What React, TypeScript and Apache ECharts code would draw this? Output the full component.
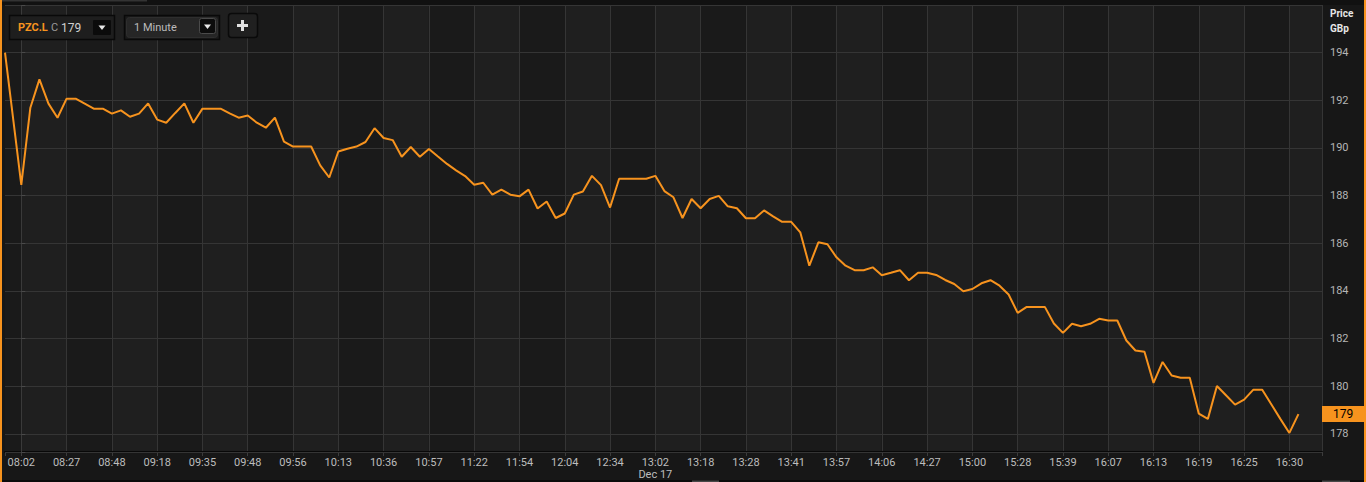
import React, { useEffect, useRef } from "react";
import * as echarts from "echarts";

// Slot positions: first tick (the open) sits just before the 08:02 slot
const slotOffsetFirst = -1.8;
const prices: number[] = [
  194.0, 188.45, 191.69, 192.88, 191.86, 191.27, 192.07, 192.07, 191.86, 191.65,
  191.65, 191.44, 191.58, 191.31, 191.44, 191.87, 191.19, 191.06, 191.47, 191.87,
  191.06, 191.65, 191.65, 191.65, 191.45, 191.27, 191.36, 191.06, 190.85, 191.27,
  190.27, 190.06, 190.06, 190.06, 189.27, 188.76, 189.85, 189.97, 190.06, 190.25,
  190.83, 190.42, 190.33, 189.63, 190.04, 189.63, 189.96, 189.64, 189.33, 189.06,
  188.82, 188.46, 188.54, 188.04, 188.25, 188.04, 187.97, 188.25, 187.46, 187.75,
  187.06, 187.25, 188.04, 188.17, 188.83, 188.44, 187.5, 188.71, 188.71, 188.71,
  188.71, 188.83, 188.19, 187.93, 187.06, 187.86, 187.47, 187.86, 187.99, 187.55,
  187.47, 187.05, 187.05, 187.38, 187.13, 186.9, 186.9, 186.46, 185.06, 186.04,
  185.96, 185.41, 185.06, 184.87, 184.87, 184.99, 184.66, 184.76, 184.87, 184.45,
  184.76, 184.76, 184.67, 184.46, 184.29, 183.99, 184.08, 184.32, 184.45, 184.22,
  183.85, 183.08, 183.33, 183.33, 183.33, 182.63, 182.24, 182.62, 182.52, 182.62,
  182.83, 182.76, 182.76, 181.92, 181.5, 181.45, 180.14, 181.02, 180.45, 180.36,
  180.36, 178.85, 178.63, 180.01, 179.62, 179.23, 179.44, 179.85, 179.85, 179.24,
  178.63, 178.04, 178.83,
];
const timeLabels: string[] = [
  "08:02", "08:27", "08:48", "09:18", "09:35", "09:48", "09:56", "10:13", "10:36", "10:57",
  "11:22", "11:54", "12:04", "12:34", "13:02", "13:18", "13:28", "13:41", "13:57", "14:06",
  "14:27", "15:00", "15:28", "15:39", "16:07", "16:13", "16:19", "16:25", "16:30",
];
const dateLabel = "Dec 17";
const dateLabelAt = "13:02";
const labelEvery = 5;
const ticker = "PZC.L";
const closeLabel = "C";
const period = "1 Minute";
const yUnit = ["Price", "GBp"];

const slots: number[] = prices.map((_, i) => (i === 0 ? slotOffsetFirst : i - 1));
const lastPrice = prices[prices.length - 1];

const FONT = 'Roboto, "Liberation Sans", Arial, sans-serif';
const ORANGE = "#f7931e";

export default function App() {
  const ref = useRef<HTMLDivElement>(null);
  useEffect(() => {
    if (!ref.current) return;
    const chart = echarts.init(ref.current, null, { renderer: "svg" });
    const tri = (cx: number, cy: number) => ({
      type: "polygon",
      z: 102,
      shape: { points: [[cx - 3.5, cy - 2], [cx + 3.5, cy - 2], [cx, cy + 2.5]] },
      style: { fill: "#e8e8e8" },
    });
    const option: any = {
      animation: false,
      backgroundColor: "#171717",
      textStyle: { fontFamily: FONT },
      grid: { left: 5, right: 44, top: 5, bottom: 30, containLabel: false },
      xAxis: {
        type: "value",
        z: 0,
        min: slotOffsetFirst,
        max: 143.6,
        splitNumber: 29,
        axisLine: { show: true, lineStyle: { color: "#080808", width: 2 } },
        axisTick: { show: true, length: 4, lineStyle: { color: "#3c3c3c" } },
        splitLine: { show: true, showMinLine: false, lineStyle: { color: "#353535", width: 1 } },
        splitArea: { show: true, areaStyle: { color: ["#1a1a1a", "#1f1f1f"] } },
        axisLabel: {
          margin: 4,
          color: "#bdbdbd",
          fontSize: 11,
          fontFamily: FONT,
          lineHeight: 12,
          formatter: (v: number) => {
            const k = v / labelEvery;
            if (v < 0 || Math.abs(k - Math.round(k)) > 1e-6) return "";
            const t = timeLabels[Math.round(k)];
            if (!t) return "";
            return t === dateLabelAt ? `${t}\n${dateLabel}` : t;
          },
        },
      },
      yAxis: {
        type: "value",
        z: 1,
        position: "right",
        min: 177.24,
        max: 196,
        splitNumber: 9,
        axisLine: { show: true, lineStyle: { color: "#3a3a3a", width: 1 } },
        axisTick: { show: true, length: 4, lineStyle: { color: "#4a4a4a" } },
        splitLine: { show: true, lineStyle: { color: "#353535", width: 1 } },
        axisLabel: {
          margin: 8,
          color: "#b5b5b5",
          fontSize: 11,
          fontFamily: FONT,
          formatter: (v: number) =>
            Number.isInteger(Math.round(v * 1000) / 1000) && v <= 194 && v >= 178 ? String(Math.round(v)) : "",
        },
      },
      series: [
        {
          type: "line",
          data: slots.map((s, i) => [s, prices[i]]),
          showSymbol: false,
          symbol: "none",
          clip: false,
          lineStyle: { color: ORANGE, width: 2 },
          z: 5,
          markLine: {
            silent: true,
            symbol: ["none", "none"],
            lineStyle: { color: "rgba(0,0,0,0)", width: 0, type: "solid" },
            label: {
              show: true,
              position: "end",
              distance: 0,
              formatter: (p: any) => String(Math.round(p.value)),
              backgroundColor: ORANGE,
              color: "#000",
              opacity: 1,
              fontSize: 12,
              fontFamily: FONT,
              padding: [2, 11, 2, 11],
            },
            data: [{ yAxis: lastPrice }],
          },
        },
      ],
      graphic: {
        elements: [
          { type: "rect", z: 100, shape: { x: 0, y: 0, width: 1366, height: 5 }, style: { fill: "#111111" } },
          { type: "rect", z: 101, shape: { x: 0, y: 0, width: 147, height: 1.5 }, style: { fill: "#333333" } },
          { type: "rect", z: 100, shape: { x: 0, y: 480, width: 1366, height: 2 }, style: { fill: "#0a0a0a" } },
          { type: "rect", z: 101, shape: { x: 692, y: 480.5, width: 27, height: 1.5 }, style: { fill: "#484848" } },
          { type: "rect", z: 101, shape: { x: 1322, y: 480.5, width: 28, height: 1.5 }, style: { fill: "#484848" } },
          { type: "rect", z: 103, shape: { x: 0, y: 0, width: 2, height: 482 }, style: { fill: ORANGE } },
          { type: "rect", z: 103, shape: { x: 1364, y: 0, width: 2, height: 482 }, style: { fill: ORANGE } },
          // ticker box
          { type: "rect", z: 100, shape: { x: 9.5, y: 15.5, width: 105, height: 24 }, style: { fill: "#1e1e1e", stroke: "#090909", lineWidth: 1.5 } },
          { type: "text", z: 101, x: 18, y: 27.5, style: { text: ticker, fill: ORANGE, fontSize: 11, fontWeight: "bold", fontFamily: FONT, align: "left", verticalAlign: "middle" } },
          { type: "text", z: 101, x: 51, y: 27.5, style: { text: closeLabel, fill: "#9a9a9a", fontSize: 11, fontFamily: FONT, align: "left", verticalAlign: "middle" } },
          { type: "text", z: 101, x: 61, y: 27.5, style: { text: String(Math.round(lastPrice)), fill: "#d0d0d0", fontSize: 12, fontFamily: FONT, align: "left", verticalAlign: "middle" } },
          { type: "rect", z: 101, shape: { x: 93, y: 20, width: 18, height: 15, r: 1 }, style: { fill: "#0b0b0b" } },
          tri(102, 27.5),
          // period box
          { type: "rect", z: 100, shape: { x: 124.5, y: 15.5, width: 95, height: 24 }, style: { fill: "#1a1a1a", stroke: "#090909", lineWidth: 1.5 } },
          { type: "rect", z: 101, shape: { x: 126.5, y: 17.5, width: 91, height: 20, r: 3 }, style: { fill: "#262626", stroke: "#2e2e2e", lineWidth: 1 } },
          { type: "text", z: 102, x: 134, y: 27.5, style: { text: period, fill: "#bbbbbb", fontSize: 11, fontFamily: FONT, align: "left", verticalAlign: "middle" } },
          { type: "rect", z: 102, shape: { x: 199.5, y: 18.5, width: 16, height: 15, r: 2 }, style: { fill: "#0c0c0c", stroke: "#4a4a4a", lineWidth: 1 } },
          tri(207.5, 26.5),
          // plus button
          { type: "rect", z: 100, shape: { x: 228.5, y: 13.5, width: 29, height: 24, r: 3 }, style: { fill: "#202020", stroke: "#0a0a0a", lineWidth: 1.5 } },
          { type: "rect", z: 101, shape: { x: 241, y: 20, width: 3, height: 11 }, style: { fill: "#e0e0e0" } },
          { type: "rect", z: 101, shape: { x: 237, y: 24, width: 11, height: 3 }, style: { fill: "#e0e0e0" } },
          // y unit
          { type: "text", z: 101, x: 1330, y: 13, style: { text: yUnit[0], fill: "#e6e6e6", fontSize: 10, fontWeight: "bold", fontFamily: FONT, align: "left", verticalAlign: "middle" } },
          { type: "text", z: 101, x: 1330, y: 28, style: { text: yUnit[1], fill: "#e6e6e6", fontSize: 10, fontWeight: "bold", fontFamily: FONT, align: "left", verticalAlign: "middle" } },
        ],
      },
    };
    chart.setOption(option);
    return () => chart.dispose();
  }, []);
  return (
    <div
      ref={ref}
      style={{ position: "absolute", left: 0, top: 0, width: 1366, height: 482 }}
    />
  );
}
